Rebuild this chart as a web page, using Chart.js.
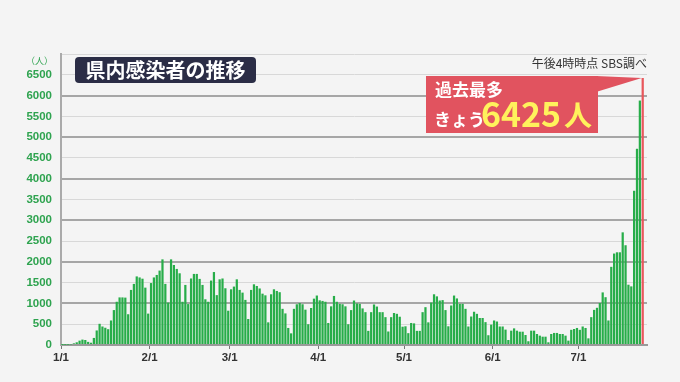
<!DOCTYPE html>
<html><head><meta charset="utf-8">
<script src="https://cdn.jsdelivr.net/npm/chart.js@4/dist/chart.umd.min.js"></script>
<style>html,body{margin:0;padding:0;background:#f4f4f4;}canvas{display:block;}</style>
</head><body>
<canvas id="c" width="680" height="382"></canvas>
<script>
// Daily new cases from 1/1 (index 0) to 7/23 (index 203)
const dailyCases = [
  3, 6, 8, 15, 40, 65, 105, 130, 120, 75, 55, 170, 350, 510, 445, 415, 380, 590, 840, 1040,
  1145, 1145, 1140, 740, 1325, 1470, 1650, 1625, 1595, 1380, 755, 1490, 1625, 1685, 1790, 2060, 1470, 1020, 2060, 1925,
  1830, 1725, 1040, 1445, 985, 1600, 1710, 1710, 1590, 1445, 1100, 1040, 1550, 1755, 1200, 1580, 1600, 1365, 825, 1340,
  1405, 1580, 1325, 1260, 1085, 625, 1325, 1460, 1420, 1360, 1235, 1195, 545, 1220, 1340, 1300, 1270, 870, 760, 410,
  280, 870, 980, 1010, 980, 850, 500, 890, 1115, 1190, 1075, 1060, 1040, 530, 930, 1180, 1040, 990, 980, 930,
  500, 840, 1070, 1000, 990, 880, 790, 340, 790, 975, 925, 790, 790, 670, 325, 670, 770, 750, 680, 440,
  450, 285, 530, 520, 340, 340, 790, 910, 545, 1020, 1220, 1170, 1070, 1080, 840, 450, 950, 1190, 1120, 990,
  990, 870, 445, 685, 800, 750, 650, 650, 550, 235, 490, 590, 565, 445, 445, 370, 120, 345, 400, 345,
  320, 320, 240, 90, 345, 345, 265, 225, 200, 200, 65, 265, 290, 290, 265, 265, 225, 105, 365, 385,
  410, 365, 445, 410, 160, 670, 845, 895, 1010, 1265, 1150, 590, 1880, 2200, 2230, 2230, 2710, 2400, 1450, 1410,
  3710, 4720, 5880, 6425
];
const monthTickDays = [0, 31, 59, 90, 120, 151, 181];
const monthTickLabels = ['1/1', '2/1', '3/1', '4/1', '5/1', '6/1', '7/1'];
const yTickValues = [0, 500, 1000, 1500, 2000, 2500, 3000, 3500, 4000, 4500, 5000, 5500, 6000, 6500];
const titleText = '県内感染者の推移';
const sourceText = '午後4時時点 SBS調べ';
const calloutLine1 = '過去最多';
const calloutPrefix = 'きょう';
const calloutUnit = '人';

const lastIndex = dailyCases.length - 1;
const points = dailyCases.map((v, i) => ({ x: i + 0.5, y: v }));
const barColors = dailyCases.map((v, i) => i === lastIndex ? '#e8575c' : '#27ad49');

const overlay = {
  id: 'overlay',
  afterDraw(chart) {
    const ctx = chart.ctx;
    const xs = chart.scales.x, ys = chart.scales.y;
    ctx.save();
    // (人) unit label
    ctx.fillStyle = '#2ea34f';
    ctx.font = '9px "Noto Sans CJK JP"';
    ctx.textAlign = 'right';
    ctx.textBaseline = 'middle';
    ctx.fillText('（人）', 53, 61);

    // Title box
    ctx.fillStyle = '#2b2d46';
    roundRect(ctx, 75, 57, 181, 26, 4);
    ctx.fill();
    ctx.fillStyle = '#ffffff';
    ctx.font = 'bold 20px "Noto Sans CJK JP"';
    ctx.textAlign = 'center';
    ctx.fillText(titleText, 165.5, 70.5);

    // Source text
    ctx.fillStyle = '#333333';
    ctx.font = '12px "Noto Sans CJK JP"';
    ctx.textAlign = 'right';
    ctx.fillText(sourceText, 647, 63);

    // Callout
    const v = dailyCases[lastIndex];
    const tipX = xs.getPixelForValue(lastIndex + 0.5);
    const tipY = ys.getPixelForValue(v);
    ctx.fillStyle = '#e1535f';
    ctx.fillRect(426, 76, 172, 57);
    ctx.beginPath();
    ctx.moveTo(596, 76);
    ctx.lineTo(tipX - 1, tipY);
    ctx.lineTo(596, 92);
    ctx.closePath();
    ctx.fill();

    ctx.fillStyle = '#ffffff';
    ctx.textAlign = 'left';
    ctx.font = 'bold 17px "Noto Sans CJK JP"';
    ctx.fillText(calloutLine1, 435, 90);
    ctx.fillText(calloutPrefix, 434, 120);

    ctx.fillStyle = '#fff25c';
    ctx.font = 'bold 34px "Noto Sans CJK JP"';
    const num = String(v);
    const w = ctx.measureText(num).width;
    ctx.save();
    ctx.translate(481, 114);
    ctx.scale(80 / w, 1);
    ctx.fillText(num, 0, 0);
    ctx.restore();
    ctx.font = 'bold 28px "Noto Sans CJK JP"';
    ctx.fillText(calloutUnit, 564, 115);
    ctx.restore();
  }
};
function roundRect(ctx, x, y, w, h, r) {
  ctx.beginPath();
  ctx.moveTo(x + r, y);
  ctx.lineTo(x + w - r, y);
  ctx.quadraticCurveTo(x + w, y, x + w, y + r);
  ctx.lineTo(x + w, y + h - r);
  ctx.quadraticCurveTo(x + w, y + h, x + w - r, y + h);
  ctx.lineTo(x + r, y + h);
  ctx.quadraticCurveTo(x, y + h, x, y + h - r);
  ctx.lineTo(x, y + r);
  ctx.quadraticCurveTo(x, y, x + r, y);
  ctx.closePath();
}

new Chart(document.getElementById('c'), {
  type: 'bar',
  data: {
    datasets: [{
      data: points,
      backgroundColor: barColors,
      borderWidth: 0,
      barPercentage: 0.78,
      categoryPercentage: 1.0
    }]
  },
  options: {
    responsive: false,
    animation: false,
    layout: { padding: { left: 0, right: 33, top: 54, bottom: 0 } },
    plugins: { legend: { display: false }, tooltip: { enabled: false }, title: { display: false } },
    scales: {
      x: {
        type: 'linear',
        min: 0,
        max: 205,
        offset: false,
        afterBuildTicks(scale) { scale.ticks = monthTickDays.map(d => ({ value: d })); },
        afterFit(scale) { scale.height = 37; },
        ticks: {
          autoSkip: false,
          maxRotation: 0,
          padding: 2,
          color: '#333333',
          font: { family: '"Liberation Sans", Arial', size: 11.5, weight: 'bold' },
          callback(value) { const i = monthTickDays.indexOf(value); return i >= 0 ? monthTickLabels[i] : ''; }
        },
        grid: { display: true, offset: false, drawOnChartArea: false, drawTicks: true, tickLength: 4, color: '#777777', lineWidth: 1 },
        border: { display: true, color: '#9a9a9a', width: 2 }
      },
      y: {
        min: 0,
        max: 7000,
        afterBuildTicks(scale) { scale.ticks = yTickValues.concat([7000]).map(v => ({ value: v })); },
        afterFit(scale) { scale.width = 61; },
        ticks: {
          padding: 9,
          color: '#2ea34f',
          font: { family: '"Liberation Sans", Arial', size: 11.5, weight: 'bold' },
          callback(value) { return yTickValues.includes(value) ? String(value) : ''; }
        },
        grid: {
          drawTicks: false,
          color: c => (c.tick && c.tick.value % 1000 === 0 && c.tick.value < 7000) ? '#a6a6a6' : '#d8d8d8',
          lineWidth: c => (c.tick && c.tick.value % 1000 === 0 && c.tick.value < 7000) ? 2 : 1
        },
        border: { display: true, color: '#aaaaaa', width: 2 }
      }
    }
  },
  plugins: [overlay]
});
</script>
</body></html>
